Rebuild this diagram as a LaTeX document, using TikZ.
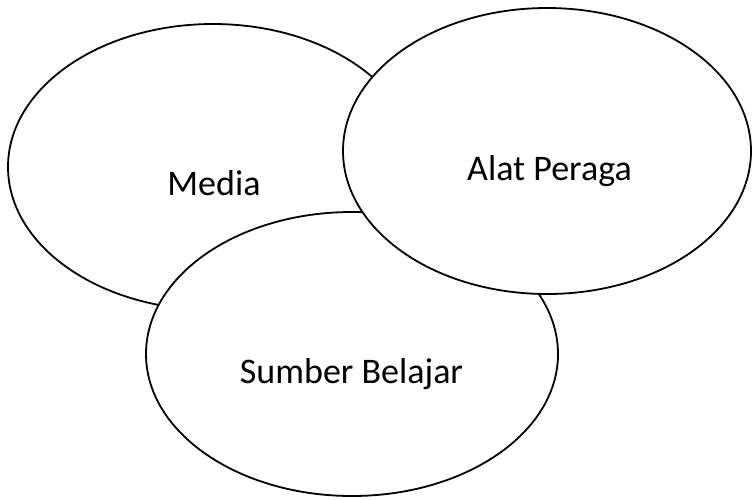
\documentclass[tikz,border=0pt]{standalone}
\usepackage{fontspec}
\setmainfont{Carlito}
\begin{document}
\begin{tikzpicture}[x=1pt,y=-1pt,
  blob/.style={draw=black,fill=white,line width=1.8pt},
  lbl/.style={font=\fontsize{36}{40}\selectfont,anchor=base,inner sep=0pt}]
\useasboundingbox (0,0) rectangle (752,499);
\fill[white] (0,0) rectangle (752,499);
\filldraw[blob] (213,167) ellipse [x radius=205, y radius=143];
\filldraw[blob] (352,354) ellipse [x radius=206, y radius=142];
\filldraw[blob] (547,151) ellipse [x radius=204, y radius=143];
\node[lbl] (media) at (214,195) {Media};
\node[lbl] (sumber) at (351.5,383) {Sumber Belajar};
\node[lbl] (alat) at (549.5,180) {Alat Peraga};
\end{tikzpicture}
\end{document}
